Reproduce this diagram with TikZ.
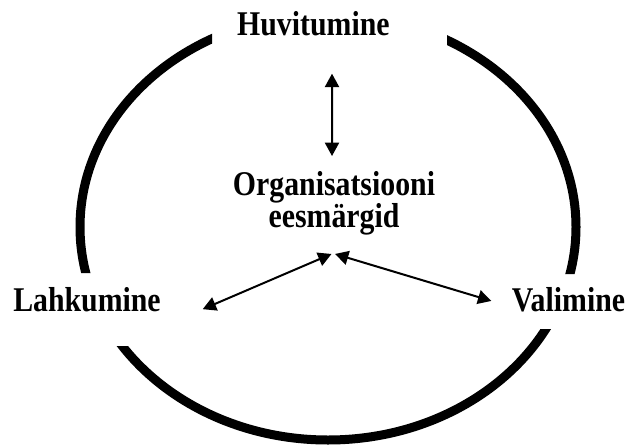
\documentclass[tikz,border=0pt]{standalone}
\usepackage{fontspec}
\setmainfont{Liberation Serif}[FakeStretch=0.86]
\usetikzlibrary{arrows.meta}

\begin{document}
\begin{tikzpicture}[
  x=0.75pt, y=-0.75pt,
  lbl/.style={font=\fontsize{26}{22.5}\selectfont\bfseries,inner sep=0pt,align=center},
  ring/.style={line width=6.75pt,black},
  link/.style={{Triangle[length=10pt,width=10.5pt]}-{Triangle[length=10pt,width=10.5pt]},
               line width=1.5pt,black},
]
\useasboundingbox (0,0) rectangle (627,445);
\begin{scope}[even odd rule]
  \clip (-20,-20) rectangle (647,465)
    (212,-20) rectangle (447,50) (-20,273) rectangle (185,346) (500,274) rectangle (647,329);
  \draw[ring] (328,227) ellipse [x radius=248,y radius=213];
\end{scope}

\node[lbl,anchor=base] (hu)  at (313.4,36)  {Huvitumine};
\node[lbl]             (org) at (334,203)   {Organisatsiooni\\[-1pt]eesmärgid};
\node[lbl,anchor=base] (lah) at (87,311.7)  {Lahkumine};
\node[lbl,anchor=base] (val) at (568.5,311) {Valimine};

\draw[link] ([shift={(18.6,37)}]hu.south) -- ([shift={(-2,-15)}]org.north);
\draw[link] ([shift={(-2.5,19)}]org.south) -- ([shift={(41.7,9.3)}]lah.east);
\draw[link] ([shift={(1,19)}]org.south)    -- ([shift={(-20.3,1.7)}]val.west);
\end{tikzpicture}
\end{document}
